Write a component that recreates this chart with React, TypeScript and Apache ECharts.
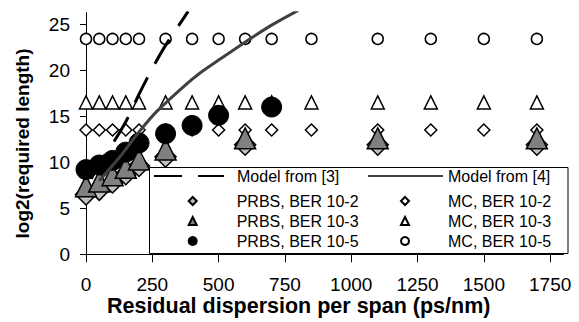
import React, { useEffect, useRef } from 'react';
import * as echarts from 'echarts';

// x positions (ps/nm)
const mcX = [0, 50, 100, 150, 200, 300, 400, 500, 600, 700, 850, 1100, 1300, 1500, 1700];
const mcBer2 = [13.5, 13.5, 13.5, 13.5, 13.5, 13.5, 13.5, 13.5, 13.5, 13.5, 13.5, 13.5, 13.5, 13.5, 13.5];
const mcBer3 = [16.5, 16.5, 16.5, 16.5, 16.5, 16.5, 16.5, 16.5, 16.5, 16.5, 16.5, 16.5, 16.5, 16.5, 16.5];
const mcBer5 = [23.4, 23.4, 23.4, 23.4, 23.4, 23.4, 23.4, 23.4, 23.4, 23.4, 23.4, 23.4, 23.4, 23.4, 23.4];

const prbsX = [0, 50, 100, 150, 200, 300, 600, 1100, 1700];
const prbsBer2 = [6.5, 7.0, 7.8, 8.7, 9.6, 10.6, 11.9, 11.9, 11.9];
const prbsBer3 = [7.4, 7.9, 8.6, 9.4, 10.3, 11.4, 12.6, 12.6, 12.6];
const prbs5X = [0, 50, 100, 150, 200, 300, 400, 500, 700];
const prbsBer5 = [9.2, 9.7, 10.2, 11.1, 12.1, 13.1, 14.0, 15.1, 16.0];

const model3X = [20, 60, 100, 150, 200, 250, 300, 360, 385];
const model3Y = [8.2, 10.3, 12.0, 14.4, 17.4, 20.2, 22.7, 25.3, 26.4];
const model4X = [50, 128, 200, 266, 367, 430, 500, 618, 700, 800];
const model4Y = [8.0, 10.6, 13.3, 15.5, 18.2, 19.7, 21.1, 23.4, 24.9, 26.5];

const xTicks = [0, 250, 500, 750, 1000, 1250, 1500, 1750];
const yTicks = [0, 5, 10, 15, 20, 25];

const FONT = 'Liberation Sans, Arial, sans-serif';

const zip = (xs: number[], ys: number[]) => xs.map((x, i) => [x, ys[i]]);

export default function App() {
  const ref = useRef<HTMLDivElement>(null);
  useEffect(() => {
    const chart = echarts.init(ref.current!, undefined, { renderer: 'svg' });
    const legendText = { fontSize: 16, fontFamily: FONT, color: '#000' };
    const hiddenDot = { color: 'rgba(0,0,0,0)', borderWidth: 0, opacity: 0 };
    const option: any = {
      animation: false,
      backgroundColor: '#fff',
      grid: { left: 86, right: 15.6, top: 12.7, bottom: 67.7, containLabel: false, outerBoundsMode: 'none' },
      xAxis: {
        type: 'value',
        min: 0,
        max: 1800,
        name: 'Residual dispersion per span (ps/nm)',
        nameLocation: 'middle',
        nameGap: 41,
        nameMoveOverlap: false,
        nameTextStyle: {
          fontSize: 21.5, lineHeight: 22, fontWeight: 'bold', fontFamily: FONT, color: '#000', padding: [0, 52, 0, 0],
        },
        axisLine: { show: true, lineStyle: { color: '#000', width: 1 } },
        axisTick: { show: true, length: 8, customValues: xTicks, lineStyle: { color: '#000' } },
        axisLabel: {
          customValues: xTicks, fontSize: 19, lineHeight: 19, fontFamily: FONT, color: '#000', margin: 21,
          formatter: (v: number) => String(v),
        },
        splitLine: { show: false },
      },
      yAxis: {
        type: 'value',
        min: 0,
        max: 26.25,
        name: 'log2(required length)',
        nameLocation: 'middle',
        nameRotate: 90,
        nameGap: 54,
        nameMoveOverlap: false,
        nameTextStyle: { fontSize: 19, fontWeight: 'bold', fontFamily: FONT, color: '#000', padding: [0, 20, 0, 0] },
        axisLine: { show: true, lineStyle: { color: '#000', width: 1 } },
        axisTick: { show: true, length: 6, customValues: yTicks, lineStyle: { color: '#000' } },
        axisLabel: {
          customValues: yTicks, fontSize: 19, fontFamily: FONT, color: '#000', margin: 16,
          formatter: (v: number) => String(v),
        },
        splitLine: { show: false },
      },
      legend: [
        {
          data: ['Model from [3]'], left: 153, top: 168, padding: 0, itemWidth: 70, itemHeight: 8,
          itemStyle: hiddenDot, textStyle: { ...legendText, padding: [0, 0, 0, 8] }, selectedMode: false,
        },
        {
          data: ['Model from [4]'], left: 367, top: 168, padding: 0, itemWidth: 75, itemHeight: 8,
          itemStyle: hiddenDot, textStyle: legendText, selectedMode: false,
        },
        {
          data: ['PRBS, BER 10-2', 'PRBS, BER 10-3', 'PRBS, BER 10-5'],
          orient: 'vertical', left: 187.7, top: 193, padding: 0, itemWidth: 8, itemHeight: 8, itemGap: 4,
          textStyle: { ...legendText, padding: [0, 0, 0, 35] }, selectedMode: false,
        },
        {
          data: ['MC, BER 10-2', 'MC, BER 10-3', 'MC, BER 10-5'],
          orient: 'vertical', left: 400, top: 193, padding: 0, itemWidth: 8, itemHeight: 8, itemGap: 4,
          textStyle: { ...legendText, padding: [0, 0, 0, 34] }, selectedMode: false,
        },
      ],
      graphic: [
        {
          type: 'rect', z: 3,
          shape: { x: 149.5, y: 167.5, width: 418.5, height: 86 },
          style: { fill: '#fff', stroke: '#000', lineWidth: 1 },
        },
      ],
      series: [
        {
          name: 'MC, BER 10-2', type: 'scatter', symbol: 'diamond', symbolSize: 12,
          itemStyle: { color: '#fff', borderColor: '#000', borderWidth: 1.5, opacity: 1 }, data: zip(mcX, mcBer2),
        },
        {
          name: 'MC, BER 10-3', type: 'scatter', symbol: 'triangle', symbolSize: 13,
          itemStyle: { color: '#fff', borderColor: '#000', borderWidth: 1.5, opacity: 1 }, data: zip(mcX, mcBer3),
        },
        {
          name: 'MC, BER 10-5', type: 'scatter', symbol: 'circle', symbolSize: 11,
          itemStyle: { color: '#fff', borderColor: '#000', borderWidth: 1.5, opacity: 1 }, data: zip(mcX, mcBer5),
        },
        {
          name: 'PRBS, BER 10-2', type: 'scatter', symbol: 'diamond', symbolSize: 21,
          itemStyle: { color: '#c0c0c0', borderColor: '#000', borderWidth: 1.5, opacity: 1 }, data: zip(prbsX, prbsBer2),
        },
        {
          name: 'PRBS, BER 10-3', type: 'scatter', symbol: 'triangle', symbolSize: 21,
          itemStyle: { color: '#808080', borderColor: '#000', borderWidth: 1.5, opacity: 1 }, data: zip(prbsX, prbsBer3),
        },
        {
          name: 'PRBS, BER 10-5', type: 'scatter', symbol: 'circle', symbolSize: 20,
          itemStyle: { color: '#000', borderColor: '#000', borderWidth: 1, opacity: 1 }, data: zip(prbs5X, prbsBer5),
        },
        {
          name: 'Model from [3]', type: 'line', symbol: 'none', smooth: 0.3,
          lineStyle: { color: '#000', width: 3, type: [28, 16] }, itemStyle: { color: '#000' },
          data: zip(model3X, model3Y),
        },
        {
          name: 'Model from [4]', type: 'line', symbol: 'none', smooth: 0.3,
          lineStyle: { color: '#404040', width: 3 }, itemStyle: { color: '#404040' },
          data: zip(model4X, model4Y),
        },
      ],
    };
    chart.setOption(option);
    return () => chart.dispose();
  }, []);
  return <div ref={ref} style={{ position: 'fixed', left: 0, top: 0, width: 579, height: 322 }} />;
}
